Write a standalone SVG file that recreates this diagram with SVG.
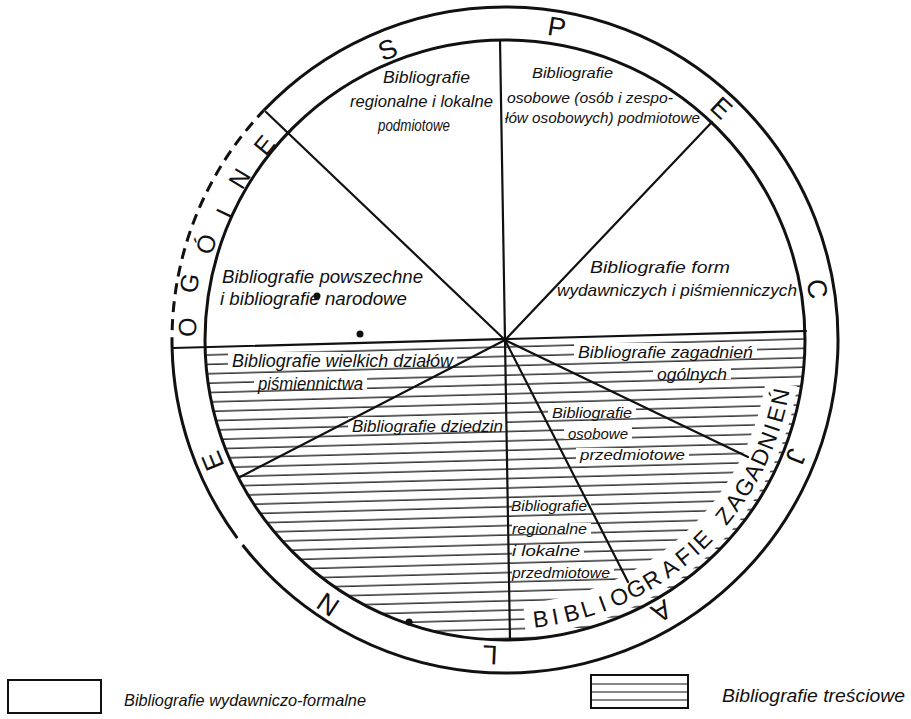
<svg xmlns="http://www.w3.org/2000/svg" width="911" height="719" viewBox="0 0 911 719">
<style>
.lbl{font-family:"Liberation Sans",Arial,sans-serif;font-style:italic;fill:#111}
.ring{font-family:"Liberation Sans",Arial,sans-serif;fill:#111;font-size:27px;text-anchor:middle}
.ring2{font-family:"Liberation Sans",Arial,sans-serif;fill:#111;font-size:25px;text-anchor:middle}
.zag{font-family:"Liberation Sans",Arial,sans-serif;fill:#111;font-size:23px;text-anchor:middle}
.ln{stroke:#111;stroke-width:2.2;fill:none;stroke-linecap:round}
.circ{stroke:#111;stroke-width:3;fill:none}
.mask{fill:#fff}
</style>
<defs>
<pattern id="hatch" patternUnits="userSpaceOnUse" width="200" height="9.4" patternTransform="rotate(-1.54 505 340)">
<rect x="0" y="7.95" width="200" height="1.3" fill="#111"/>
</pattern>
<clipPath id="lowerHalf">
<path d="M205,340 A300,300 0 0 0 805,340 Z" transform="rotate(-1.54 505 340)"/>
</clipPath>
</defs>
<rect width="911" height="719" fill="#fff"/>

<g id="hatching">
<rect x="190" y="330" width="630" height="320" fill="url(#hatch)" clip-path="url(#lowerHalf)"/>
<path d="M524.5,619.3 A280,280 0 0 0 781.5,383.8" stroke="#fff" stroke-width="32" fill="none"/>
<rect class="mask" x="228" y="352" width="229" height="14"/>
<rect class="mask" x="254" y="375" width="113" height="14"/>
<rect class="mask" x="348" y="417" width="159" height="14"/>
<rect class="mask" x="574" y="343" width="183" height="14"/>
<rect class="mask" x="653" y="365" width="78" height="14"/>
<rect class="mask" x="548" y="406" width="88" height="12"/>
<rect class="mask" x="564" y="427" width="68" height="12"/>
<rect class="mask" x="576" y="448" width="113" height="12"/>
<rect class="mask" x="512" y="500" width="79" height="11"/>
<rect class="mask" x="512" y="523" width="79" height="11"/>
<rect class="mask" x="512" y="545" width="72" height="11"/>
<rect class="mask" x="512" y="567" width="102" height="11"/>
</g>

<g id="connectors">
<line class="ln" x1="173" y1="348" x2="806" y2="331"/>
<line class="ln" x1="505" y1="340" x2="266" y2="112"/>
<line class="ln" x1="505" y1="340" x2="500" y2="40"/>
<line class="ln" x1="505" y1="340" x2="712" y2="122"/>
<line class="ln" x1="505" y1="340" x2="240" y2="477"/>
<line class="ln" x1="505" y1="340" x2="510" y2="640"/>
<line class="ln" x1="505" y1="340" x2="628" y2="582"/>
<line class="ln" x1="505" y1="340" x2="748" y2="457"/>
</g>

<g id="circles">
<circle class="circ" cx="505" cy="340" r="300"/>
<path class="circ" d="M263.8,110.4 A333,333 0 1 1 242.6,545"/>
<path class="circ" d="M237.3,538.1 A333,333 0 0 1 172.1,348.1"/>
<path class="circ" d="M172.1,348.1 A333,333 0 0 1 263.8,110.4" stroke-dasharray="11 7"/>
<circle cx="317" cy="296" r="3.5" fill="#111"/>
<circle cx="360" cy="334" r="3.5" fill="#111"/>
<circle cx="409" cy="622" r="3.5" fill="#111"/>
</g>

<g id="ring-specjalne">
<text class="ring" x="505" y="36" transform="rotate(-22 505 340)">S</text>
<text class="ring" x="505" y="32" transform="rotate(9.4 505 340)">P</text>
<text class="ring" x="505" y="32" transform="rotate(43 505 340)">E</text>
<text class="ring" x="505" y="33" transform="rotate(80.7 505 340)">C</text>
<text class="ring" x="505" y="36" transform="rotate(111.8 505 340)">J</text>
<text class="ring" x="505" y="36" transform="rotate(150 505 340)">A</text>
<text class="ring" x="505" y="34" transform="rotate(182.7 505 340)">L</text>
<text class="ring" x="505" y="31" transform="rotate(213.8 505 340)">N</text>
<text class="ring" x="505" y="33" transform="rotate(247.5 505 340)">E</text>
</g>

<g id="ring-ogolne">
<text class="ring2" x="505" y="31" transform="rotate(-87.7 505 340)">O</text>
<text class="ring2" x="505" y="28" transform="rotate(-79.8 505 340)">G</text>
<text class="ring2" x="505" y="35" transform="rotate(-72.2 505 340)">Ó</text>
<text class="ring2" x="505" y="41" transform="rotate(-65 505 340)">L</text>
<text class="ring2" x="505" y="38" transform="rotate(-58.7 505 340)">N</text>
<text class="ring2" x="505" y="39" transform="rotate(-51 505 340)">E</text>
</g>

<g id="ring-zagadnien">
<text class="zag" x="505" y="629" transform="rotate(-7.3 505 340)">B</text>
<text class="zag" x="505" y="629" transform="rotate(-10.3 505 340)">I</text>
<text class="zag" x="505" y="629" transform="rotate(-13.7 505 340)">B</text>
<text class="zag" x="505" y="629" transform="rotate(-17.1 505 340)">L</text>
<text class="zag" x="505" y="629" transform="rotate(-20.3 505 340)">I</text>
<text class="zag" x="505" y="629" transform="rotate(-24 505 340)">O</text>
<text class="zag" x="505" y="629" transform="rotate(-27.8 505 340)">G</text>
<text class="zag" x="505" y="629" transform="rotate(-31.5 505 340)">R</text>
<text class="zag" x="505" y="629" transform="rotate(-35.8 505 340)">A</text>
<text class="zag" x="505" y="629" transform="rotate(-39.5 505 340)">F</text>
<text class="zag" x="505" y="629" transform="rotate(-42.1 505 340)">I</text>
<text class="zag" x="505" y="629" transform="rotate(-44.7 505 340)">E</text>
<text class="zag" x="505" y="629" transform="rotate(-51.3 505 340)">Z</text>
<text class="zag" x="505" y="629" transform="rotate(-54.8 505 340)">A</text>
<text class="zag" x="505" y="629" transform="rotate(-58.4 505 340)">G</text>
<text class="zag" x="505" y="629" transform="rotate(-62 505 340)">A</text>
<text class="zag" x="505" y="629" transform="rotate(-65.4 505 340)">D</text>
<text class="zag" x="505" y="629" transform="rotate(-69 505 340)">N</text>
<text class="zag" x="505" y="629" transform="rotate(-71.8 505 340)">I</text>
<text class="zag" x="505" y="629" transform="rotate(-74.7 505 340)">E</text>
<text class="zag" x="505" y="629" transform="rotate(-78.3 505 340)">Ń</text>
</g>

<g id="sector-regionalne-podmiotowe" class="lbl" font-size="17">
<text x="383" y="83" textLength="87" lengthAdjust="spacingAndGlyphs">Bibliografie</text>
<text x="350" y="107" textLength="143" lengthAdjust="spacingAndGlyphs">regionalne i lokalne</text>
<text x="378" y="131" textLength="72" lengthAdjust="spacingAndGlyphs">podmiotowe</text>
</g>

<g id="sector-osobowe-podmiotowe" class="lbl" font-size="15">
<text x="532" y="78" textLength="81" lengthAdjust="spacingAndGlyphs">Bibliografie</text>
<text x="507" y="103" textLength="166" lengthAdjust="spacingAndGlyphs">osobowe (osób i zespo-</text>
<text x="505" y="123" textLength="195" lengthAdjust="spacingAndGlyphs">łów osobowych) podmiotowe</text>
</g>

<g id="sector-powszechne" class="lbl" font-size="19">
<text x="222" y="283" textLength="201" lengthAdjust="spacingAndGlyphs">Bibliografie powszechne</text>
<text x="220" y="305" textLength="187" lengthAdjust="spacingAndGlyphs">i bibliografie narodowe</text>
</g>

<g id="sector-form" class="lbl" font-size="17">
<text x="590" y="273" textLength="140" lengthAdjust="spacingAndGlyphs">Bibliografie form</text>
<text x="557" y="296" textLength="240" lengthAdjust="spacingAndGlyphs">wydawniczych i piśmienniczych</text>
</g>

<g id="sector-wielkich-dzialow" class="lbl" font-size="18">
<text x="232" y="367" textLength="221" lengthAdjust="spacingAndGlyphs">Bibliografie wielkich działów</text>
<text x="258" y="390" textLength="105" lengthAdjust="spacingAndGlyphs">piśmiennictwa</text>
</g>

<g id="sector-dziedzin" class="lbl" font-size="17">
<text x="352" y="432" textLength="151" lengthAdjust="spacingAndGlyphs">Bibliografie dziedzin</text>
</g>

<g id="sector-zagadnien-ogolnych" class="lbl" font-size="17">
<text x="578" y="358" textLength="175" lengthAdjust="spacingAndGlyphs">Bibliografie zagadnień</text>
<text x="657" y="380" textLength="70" lengthAdjust="spacingAndGlyphs">ogólnych</text>
</g>

<g id="sector-osobowe-przedmiotowe" class="lbl" font-size="15">
<text x="552" y="418" textLength="80" lengthAdjust="spacingAndGlyphs">Bibliografie</text>
<text x="568" y="439" textLength="60" lengthAdjust="spacingAndGlyphs">osobowe</text>
<text x="580" y="460" textLength="105" lengthAdjust="spacingAndGlyphs">przedmiotowe</text>
</g>

<g id="sector-regionalne-przedmiotowe" class="lbl" font-size="14">
<text x="511" y="511" textLength="76" lengthAdjust="spacingAndGlyphs">Bibliografie</text>
<text x="512" y="534" textLength="75" lengthAdjust="spacingAndGlyphs">regionalne</text>
<text x="512" y="556" textLength="68" lengthAdjust="spacingAndGlyphs">i lokalne</text>
<text x="512" y="578" textLength="98" lengthAdjust="spacingAndGlyphs">przedmiotowe</text>
</g>

<g id="legend-formalne">
<rect x="8" y="680" width="93" height="33" fill="#fff" stroke="#111" stroke-width="2"/>
<text class="lbl" x="124" y="706" font-size="17" textLength="242" lengthAdjust="spacingAndGlyphs">Bibliografie wydawniczo-formalne</text>
</g>

<g id="legend-tresciowe">
<rect x="591" y="675" width="97" height="33" fill="#fff" stroke="#111" stroke-width="2"/>
<line x1="592" y1="684" x2="687" y2="684" stroke="#111" stroke-width="1.2"/>
<line x1="592" y1="692" x2="687" y2="692" stroke="#111" stroke-width="1.2"/>
<line x1="592" y1="700" x2="687" y2="700" stroke="#111" stroke-width="1.2"/>
<text class="lbl" x="722" y="702" font-size="18" textLength="183" lengthAdjust="spacingAndGlyphs">Bibliografie treściowe</text>
</g>
</svg>
